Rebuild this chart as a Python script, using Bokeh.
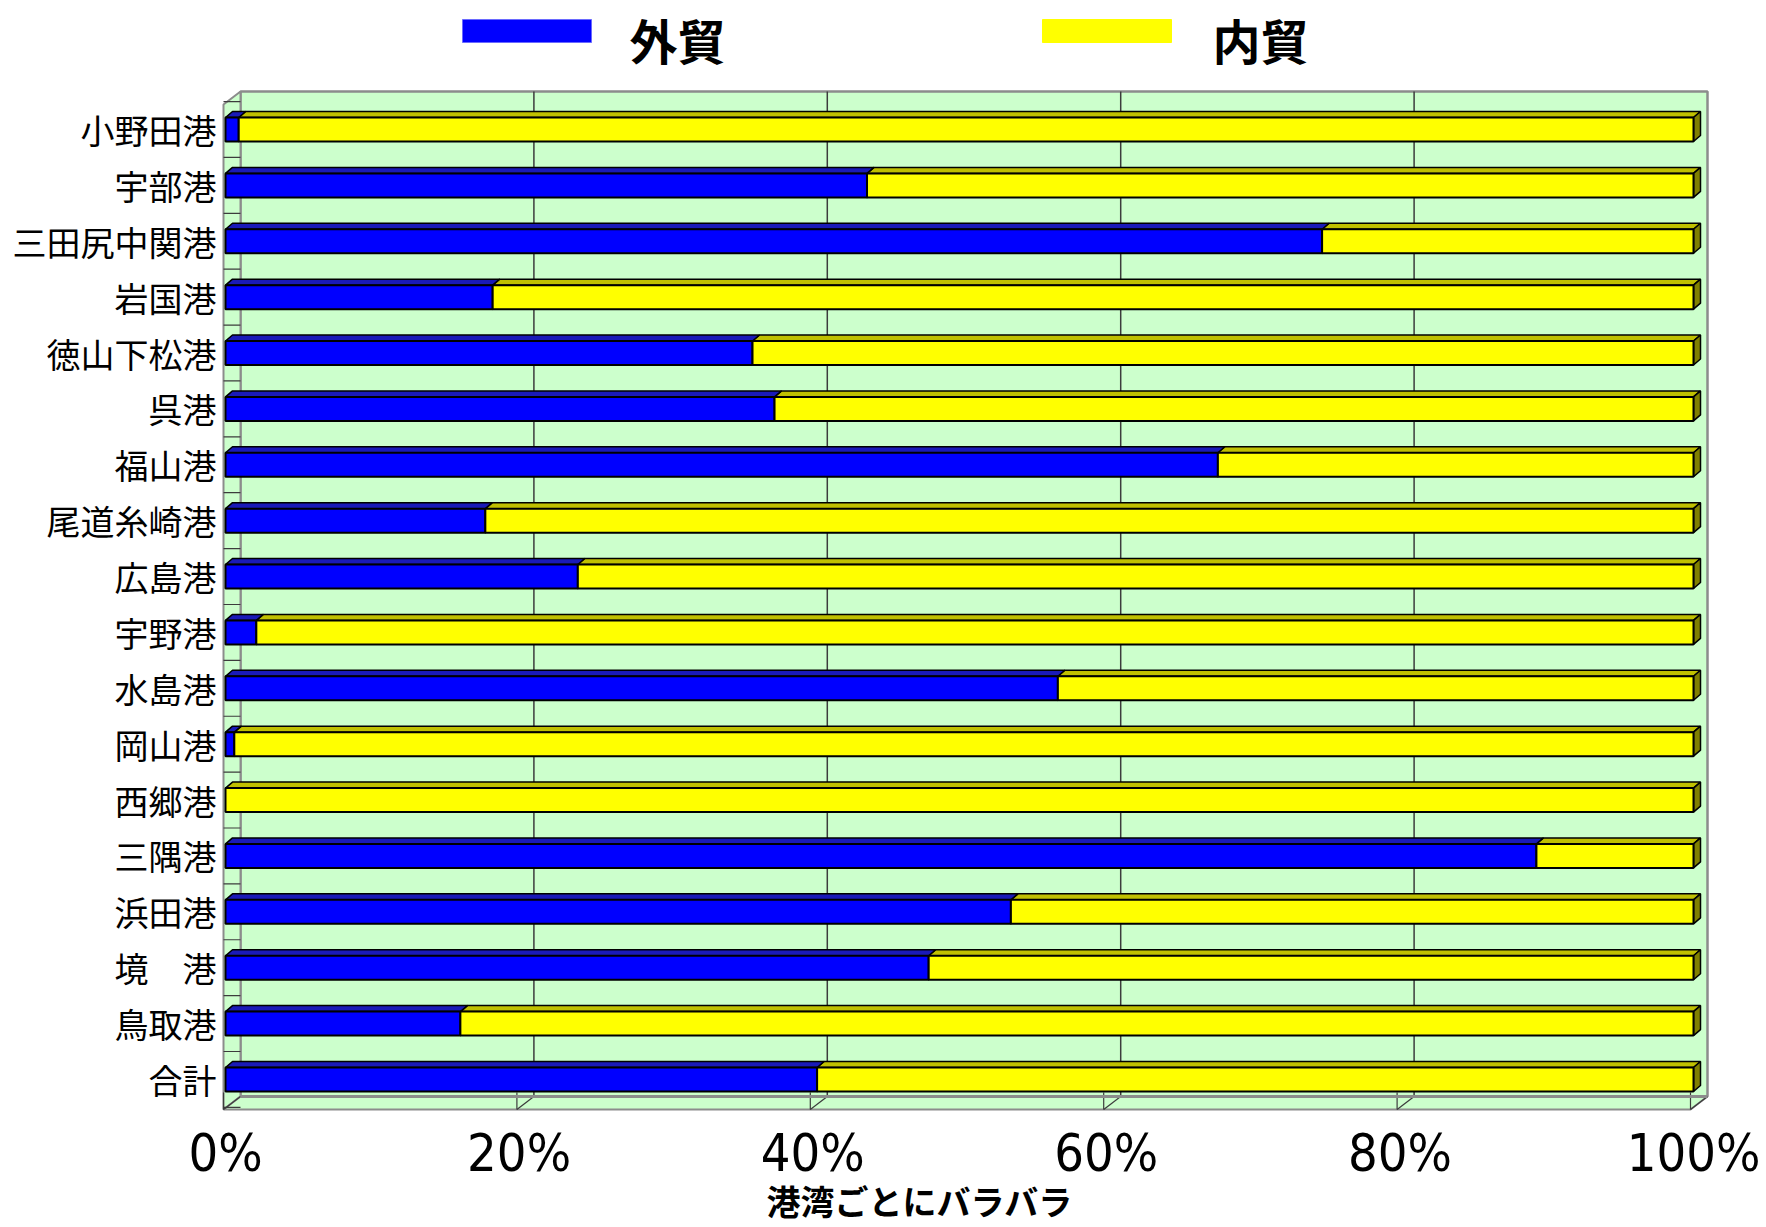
from bokeh.plotting import figure
from bokeh.models import Range1d, FixedTicker, Title
from bokeh.core.properties import value
from bokeh.embed import file_html
from bokeh.resources import INLINE

# ---------------- data ----------------
categories = ["小野田港", "宇部港", "三田尻中関港", "岩国港", "徳山下松港", "呉港",
              "福山港", "尾道糸崎港", "広島港", "宇野港", "水島港", "岡山港",
              "西郷港", "三隅港", "浜田港", "境　港", "鳥取港", "合計"]
foreign_trade = [0.9, 43.7, 74.7, 18.2, 35.9, 37.4, 67.6, 17.7, 24.0, 2.1,
                 56.7, 0.6, 0.0, 89.3, 53.5, 47.9, 16.0, 40.3]
domestic_trade = [99.1, 56.3, 25.3, 81.8, 64.1, 62.6, 32.4, 82.3, 76.0, 97.9,
                  43.3, 99.4, 100.0, 10.7, 46.5, 52.1, 84.0, 59.7]
series_names = ["外貿", "内貿"]
x_ticks = [0, 20, 40, 60, 80, 100]
x_tick_labels = ["0%", "20%", "40%", "60%", "80%", "100%"]
axis_title = "港湾ごとにバラバラ"

# ---------------- layout (canvas pixels) ----------------
W, H = 1766, 1227
FRAME_LEFT = 221
FRAME_BOTTOM = 1112
X0, X100 = 225.0, 1693.0
PX = (X100 - X0) / 100.0
ROW0, PY = 129.0, 55.88


def px2x(px):
    return (px - X0) / PX


def px2y(py):
    return (py - ROW0) / PY


def dxp(px):
    return px / PX


def dyp(py):
    return py / PY


CJK = value("Noto Sans CJK JP")

p = figure(width=W, height=H, output_backend="svg", toolbar_location=None,
           x_range=Range1d(px2x(FRAME_LEFT), px2x(W)),
           y_range=Range1d(px2y(FRAME_BOTTOM), px2y(0)),
           min_border_left=FRAME_LEFT, min_border_right=0,
           min_border_top=0, min_border_bottom=H - FRAME_BOTTOM)
p.outline_line_color = None
p.background_fill_color = "white"
p.border_fill_color = "white"
p.grid.visible = False

# ---------------- 3D box ----------------
BOX_DX, BOX_DY = dxp(17), dyp(13)
FX0, FX1 = px2x(223), px2x(1690)


def fx(v):
    return FX0 + v * (FX1 - FX0) / 100.0


def bx(v):
    return fx(v) + BOX_DX


TOP_BACK = px2y(91)
BOTTOM_FRONT = px2y(1109)
BOTTOM_BACK = BOTTOM_FRONT - BOX_DY
WALL = "#CCFFCC"
EDGE = "#8C8C8C"

p.patch([bx(0), bx(100), bx(100), bx(0)], [TOP_BACK, TOP_BACK, BOTTOM_BACK, BOTTOM_BACK],
        fill_color=WALL, line_color=EDGE, line_width=2.5)
p.patch([fx(0), bx(0), bx(0), fx(0)], [TOP_BACK + BOX_DY, TOP_BACK, BOTTOM_BACK, BOTTOM_FRONT],
        fill_color=WALL, line_color=EDGE, line_width=2)
p.patch([fx(0), bx(0), bx(100), fx(100)], [BOTTOM_FRONT, BOTTOM_BACK, BOTTOM_BACK, BOTTOM_FRONT],
        fill_color=WALL, line_color=EDGE, line_width=2)

p.multi_line([[bx(v), bx(v)] for v in x_ticks[1:-1]], [[TOP_BACK, BOTTOM_BACK] for v in x_ticks[1:-1]],
             line_color="#3C3C3C", line_width=1.5)
p.multi_line([[bx(v), fx(v)] for v in x_ticks], [[BOTTOM_BACK, BOTTOM_FRONT] for v in x_ticks],
             line_color="#3C3C3C", line_width=1.2)
p.multi_line([[fx(v), fx(v)] for v in x_ticks], [[px2y(1092), BOTTOM_FRONT] for v in x_ticks],
             line_color="#3C3C3C", line_width=1.2)
p.line([bx(0), bx(100)], [BOTTOM_BACK, BOTTOM_BACK], line_color=EDGE, line_width=3)

seps = [i + 0.5 for i in range(-1, len(categories))]
p.multi_line([[fx(0), bx(0)] for s in seps], [[s, s] for s in seps],
             line_color="#3C3C3C", line_width=1.2)

# ---------------- bars ----------------
HH = dyp(12)
BDX, BDY = dxp(7), dyp(6)
n = len(categories)
ypos = list(range(n))
blue_left = [0.0] * n
blue_right = foreign_trade
yel_left = foreign_trade
yel_right = [a + b for a, b in zip(foreign_trade, domestic_trade)]


def top_faces(lefts, rights):
    xs, ys = [], []
    for l, r, y in zip(lefts, rights, ypos):
        if r - l <= 0:
            continue
        t = y - HH
        xs.append([l, l + BDX, r + BDX, r])
        ys.append([t, t - BDY, t - BDY, t])
    return xs, ys


yx, yy = top_faces(yel_left, yel_right)
p.patches(yx, yy, fill_color="#C0C000", line_color="black", line_width=1.5)
bxs, bys = top_faces(blue_left, blue_right)
p.patches(bxs, bys, fill_color="#1A1AB8", line_color="black", line_width=1.5)

sx = [[r, r + BDX, r + BDX, r] for r in yel_right]
sy = [[y - HH, y - HH - BDY, y + HH - BDY, y + HH] for y in ypos]
p.patches(sx, sy, fill_color="#808000", line_color="black", line_width=1.5)

bl = [(l, r, y) for l, r, y in zip(blue_left, blue_right, ypos) if r > 0]
p.quad(left=[b[0] for b in bl], right=[b[1] for b in bl],
       top=[b[2] - HH for b in bl], bottom=[b[2] + HH for b in bl],
       fill_color="#0000FF", line_color="black", line_width=2)
p.quad(left=yel_left, right=yel_right,
       top=[y - HH for y in ypos], bottom=[y + HH for y in ypos],
       fill_color="#FFFF00", line_color="black", line_width=2)

# ---------------- axes ----------------
p.yaxis.ticker = FixedTicker(ticks=ypos)
p.yaxis.major_label_overrides = {i: c for i, c in enumerate(categories)}
p.yaxis.major_label_text_font = "Noto Sans CJK JP"
p.yaxis.major_label_text_font_size = "34px"
p.yaxis.major_label_text_color = "black"
p.yaxis.major_label_standoff = -1
p.yaxis.axis_line_color = None
p.yaxis.major_tick_line_color = None
p.yaxis.minor_tick_line_color = None

p.xaxis.ticker = FixedTicker(ticks=x_ticks)
p.xaxis.major_label_overrides = {t: s for t, s in zip(x_ticks, x_tick_labels)}
p.xaxis.major_label_text_font = "Liberation Sans Narrow, DejaVu Sans Condensed, Liberation Sans"
p.xaxis.major_label_text_font_size = "52px"
p.xaxis.major_label_text_color = "black"
p.xaxis.major_label_standoff = 4
p.xaxis.axis_line_color = None
p.xaxis.major_tick_line_color = None
p.xaxis.minor_tick_line_color = None

# ---------------- legend (manual) ----------------
leg_colors = ["#0000FF", "#FFFF00"]
leg_lines = ["#6A6AFF", "#FFFF00"]
leg_sw_left = [462, 1042]
leg_txt_x = [677, 1260]
for name, col, lc, sl, tx in zip(series_names, leg_colors, leg_lines, leg_sw_left, leg_txt_x):
    p.quad(left=[px2x(sl)], right=[px2x(sl + 129)], top=[px2y(19)], bottom=[px2y(42)],
           fill_color=col, line_color=lc, line_width=1)
    p.text(x=[px2x(tx)], y=[px2y(38)], text=[name], text_font=CJK, text_font_style="bold",
           text_font_size="48px", text_color="black", text_align="center", text_baseline="middle")

# ---------------- axis title ----------------
title_size = 34
p.add_layout(Title(text=axis_title, align="left",
                   offset=919 - len(axis_title) * title_size / 2 - FRAME_LEFT,
                   text_font="Noto Sans CJK JP", text_font_style="bold",
                   text_font_size=f"{title_size}px", text_color="black", standoff=-24), "below")

open("out.html", "w").write(file_html(p, INLINE))
